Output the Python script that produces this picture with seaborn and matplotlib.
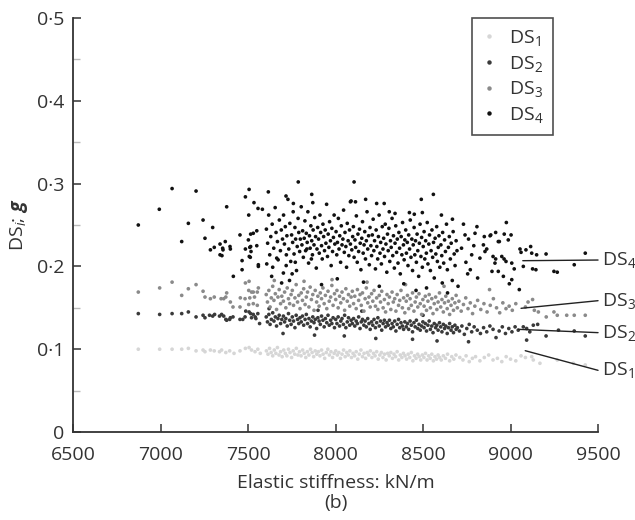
import pandas as pd
import matplotlib
matplotlib.use("Agg")
import matplotlib.pyplot as plt
import seaborn as sns
from matplotlib.ticker import FixedLocator

# Values (x: elastic stiffness kN/m, y: DS_i g)
ds1 = [(6873,0.100),(6995,0.100),(7066,0.100),(7121,0.100),(7159,0.101),(7203,0.098),(7243,0.099),(7254,0.097),
       (7285,0.099),(7307,0.098),(7337,0.097),(7349,0.099),(7373,0.096),(7395,0.098),(7420,0.095),(7454,0.098),
       (7485,0.101),(7506,0.102),(7520,0.099),(7540,0.097),(7556,0.100),(7570,0.095),
       (7605,0.098),(7614,0.094),(7623,0.101),(7632,0.096),(7641,0.092),(7650,0.099),(7659,0.095),(7668,0.102),
       (7677,0.093),(7686,0.097),(7695,0.091),(7704,0.099),(7713,0.095),(7722,0.092),(7731,0.100),(7740,0.096),
       (7749,0.090),(7758,0.098),(7767,0.094),(7776,0.101),(7785,0.093),(7794,0.097),(7803,0.092),(7812,0.099),
       (7821,0.095),(7830,0.090),(7839,0.097),(7848,0.093),(7857,0.100),(7866,0.096),(7875,0.091),(7884,0.098),
       (7893,0.094),(7902,0.097),(7911,0.092),(7920,0.099),(7929,0.094),(7938,0.089),(7947,0.096),(7956,0.100),
       (7965,0.093),(7974,0.097),(7983,0.090),(7992,0.095),(8001,0.098),(8010,0.093),(8019,0.096),(8028,0.089),
       (8037,0.094),(8046,0.099),(8055,0.091),(8064,0.096),(8073,0.093),(8082,0.098),(8091,0.090),(8100,0.095),
       (8109,0.092),(8118,0.097),(8127,0.088),(8136,0.094),(8145,0.099),(8154,0.091),(8163,0.095),(8172,0.089),
       (8181,0.096),(8190,0.093),(8199,0.098),(8208,0.090),(8217,0.095),(8226,0.092),(8235,0.097),(8244,0.088),
       (8253,0.093),(8262,0.096),(8271,0.090),(8280,0.094),(8289,0.087),(8298,0.095),(8307,0.092),(8316,0.096),
       (8325,0.089),(8334,0.094),(8343,0.091),(8352,0.097),(8361,0.087),(8370,0.093),(8379,0.090),(8388,0.095),
       (8397,0.092),(8406,0.088),(8415,0.094),(8424,0.090),(8433,0.096),(8442,0.086),(8451,0.092),(8460,0.089),
       (8469,0.094),(8478,0.091),(8487,0.087),(8496,0.093),(8505,0.090),(8514,0.095),(8523,0.087),(8532,0.092),
       (8541,0.089),(8550,0.094),(8559,0.086),(8568,0.091),(8577,0.088),(8586,0.093),(8595,0.090),(8604,0.087),
       (8616,0.092),(8628,0.089),(8640,0.094),(8652,0.086),(8664,0.091),(8676,0.088),(8688,0.093),(8710,0.090),
       (8728,0.087),(8746,0.092),(8764,0.085),(8782,0.089),(8800,0.091),(8825,0.086),(8850,0.090),(8875,0.093),
       (8900,0.087),(8925,0.089),(8950,0.085),(8975,0.091),(9000,0.088),(9030,0.086),(9060,0.092),(9085,0.090),
       (9121,0.091),(9130,0.087),(9168,0.083),(9267,0.087),(9359,0.083),(9427,0.081)]

ds2 = [(6873,0.143),(6995,0.142),(7066,0.143),(7121,0.143),(7159,0.145),(7203,0.139),(7243,0.141),(7254,0.138),
       (7280,0.141),(7298,0.140),(7309,0.142),(7337,0.140),(7349,0.142),(7361,0.140),(7373,0.136),(7378,0.135),
       (7395,0.136),(7399,0.138),(7414,0.139),(7454,0.136),(7470,0.136),(7487,0.146),(7506,0.145),(7515,0.143),
       (7530,0.142),(7541,0.139),(7556,0.143),(7483,0.139),(7520,0.138),(7545,0.137),(7566,0.131),
       (7604,0.139),(7611,0.133),(7619,0.142),(7626,0.130),(7633,0.136),(7641,0.144),(7648,0.134),(7656,0.139),
       (7663,0.128),(7671,0.137),(7678,0.141),(7686,0.131),(7693,0.136),(7702,0.140),(7709,0.133),(7716,0.137),
       (7724,0.128),(7731,0.143),(7738,0.135),(7746,0.130),(7753,0.139),(7760,0.134),(7768,0.126),(7775,0.141),
       (7783,0.136),(7790,0.131),(7797,0.138),(7804,0.133),(7811,0.140),(7818,0.129),(7826,0.136),(7833,0.142),
       (7840,0.131),(7848,0.137),(7855,0.127),(7862,0.134),(7870,0.139),(7877,0.132),(7884,0.136),(7892,0.125),
       (7899,0.138),(7906,0.134),(7913,0.130),(7920,0.140),(7928,0.135),(7935,0.127),(7942,0.137),(7950,0.132),
       (7957,0.141),(7964,0.129),(7972,0.135),(7979,0.131),(7986,0.138),(7994,0.126),(8001,0.136),(8008,0.131),
       (8015,0.139),(8023,0.128),(8030,0.134),(8037,0.137),(8045,0.130),(8052,0.141),(8059,0.126),(8067,0.133),
       (8074,0.138),(8081,0.129),(8089,0.135),(8096,0.131),(8103,0.137),(8110,0.128),(8118,0.134),(8125,0.131),
       (8132,0.139),(8140,0.125),(8147,0.133),(8154,0.136),(8162,0.129),(8169,0.134),(8176,0.127),(8184,0.137),
       (8191,0.131),(8198,0.124),(8206,0.133),(8213,0.129),(8220,0.136),(8228,0.126),(8235,0.132),(8242,0.138),
       (8250,0.128),(8257,0.134),(8264,0.123),(8272,0.131),(8279,0.135),(8286,0.127),(8294,0.132),(8301,0.129),
       (8308,0.135),(8316,0.125),(8323,0.131),(8330,0.127),(8338,0.134),(8345,0.122),(8352,0.130),(8360,0.136),
       (8367,0.126),(8374,0.132),(8382,0.128),(8389,0.124),(8396,0.133),(8404,0.127),(8411,0.131),(8418,0.124),
       (8426,0.134),(8433,0.129),(8440,0.121),(8448,0.132),(8455,0.127),(8462,0.135),(8470,0.125),(8477,0.130),
       (8484,0.123),(8492,0.128),(8499,0.133),(8506,0.126),(8513,0.131),(8520,0.122),(8528,0.129),(8535,0.134),
       (8542,0.124),(8550,0.128),(8557,0.120),(8564,0.131),(8572,0.126),(8579,0.129),(8586,0.123),(8594,0.132),
       (8601,0.127),(8608,0.121),(8616,0.130),(8623,0.125),(8630,0.128),(8638,0.119),(8645,0.126),(8652,0.131),
       (8660,0.123),(8667,0.127),(8674,0.120),(8682,0.129),(8689,0.124),(8696,0.126),(8708,0.122),(8722,0.128),
       (8736,0.118),(8750,0.125),(8764,0.130),(8778,0.121),(8792,0.127),(8810,0.123),(8828,0.119),(8846,0.126),
       (8864,0.121),(8882,0.128),(8900,0.124),(8917,0.114),(8935,0.122),(8953,0.127),(8971,0.119),(8990,0.125),
       (9008,0.121),(9026,0.127),(9044,0.123),(9073,0.127),(9092,0.125),(9130,0.129),(9155,0.130),(9203,0.116),
       (9274,0.123),(9364,0.122),(9427,0.116),(9092,0.111),(9110,0.121),
       (7700,0.119),(7880,0.117),(8050,0.116),(8230,0.113),(8440,0.112),(8580,0.110),(8760,0.109),
       (7620,0.149),(7900,0.147),(8150,0.146),(8500,0.141)]

ds3 = [(6873,0.169),(6995,0.174),(7066,0.181),(7121,0.165),(7159,0.173),(7203,0.178),(7243,0.170),(7254,0.163),
       (7285,0.161),(7307,0.163),(7346,0.161),(7361,0.161),(7373,0.163),(7378,0.168),(7399,0.157),(7414,0.151),
       (7456,0.162),(7485,0.180),(7506,0.182),(7454,0.151),(7504,0.171),(7520,0.169),(7530,0.169),(7553,0.169),
       (7559,0.174),(7483,0.161),(7510,0.162),(7537,0.163),(7504,0.154),(7530,0.155),(7553,0.153),
       (7604,0.166),(7611,0.157),(7619,0.171),(7626,0.151),(7633,0.162),(7641,0.176),(7648,0.159),(7656,0.167),
       (7663,0.148),(7671,0.163),(7678,0.172),(7686,0.155),(7693,0.164),(7702,0.158),(7709,0.169),(7716,0.150),
       (7724,0.174),(7731,0.161),(7738,0.155),(7746,0.166),(7753,0.171),(7760,0.153),(7768,0.162),(7775,0.178),
       (7783,0.157),(7790,0.165),(7797,0.149),(7804,0.168),(7811,0.159),(7818,0.173),(7826,0.154),(7833,0.163),
       (7840,0.169),(7848,0.151),(7855,0.175),(7862,0.160),(7870,0.166),(7877,0.147),(7884,0.171),(7892,0.157),
       (7899,0.164),(7906,0.152),(7913,0.168),(7920,0.161),(7928,0.174),(7935,0.155),(7942,0.165),(7950,0.149),
       (7957,0.170),(7964,0.158),(7972,0.163),(7979,0.177),(7986,0.153),(7994,0.167),(8001,0.160),(8008,0.171),
       (8015,0.150),(8023,0.164),(8030,0.156),(8037,0.169),(8045,0.161),(8052,0.147),(8059,0.173),(8067,0.158),
       (8074,0.166),(8081,0.152),(8089,0.163),(8096,0.170),(8103,0.155),(8110,0.164),(8118,0.149),(8125,0.172),
       (8132,0.159),(8140,0.166),(8147,0.153),(8154,0.168),(8162,0.146),(8169,0.161),(8176,0.174),(8184,0.156),
       (8191,0.163),(8198,0.151),(8206,0.167),(8213,0.158),(8220,0.171),(8228,0.152),(8235,0.162),(8242,0.148),
       (8250,0.165),(8257,0.157),(8264,0.170),(8272,0.150),(8279,0.160),(8286,0.145),(8294,0.166),(8301,0.155),
       (8308,0.163),(8316,0.148),(8323,0.169),(8330,0.157),(8338,0.161),(8345,0.146),(8352,0.166),(8360,0.153),
       (8367,0.159),(8374,0.171),(8382,0.150),(8389,0.162),(8396,0.144),(8404,0.158),(8411,0.165),(8418,0.149),
       (8426,0.161),(8433,0.153),(8440,0.168),(8448,0.146),(8455,0.157),(8462,0.163),(8470,0.151),(8477,0.167),
       (8484,0.155),(8492,0.142),(8499,0.160),(8506,0.152),(8513,0.164),(8520,0.147),(8528,0.158),(8535,0.166),
       (8542,0.150),(8550,0.161),(8557,0.143),(8564,0.155),(8572,0.163),(8579,0.148),(8586,0.157),(8594,0.168),
       (8601,0.151),(8608,0.160),(8616,0.145),(8623,0.156),(8630,0.164),(8638,0.149),(8645,0.158),(8652,0.142),
       (8660,0.153),(8667,0.161),(8674,0.147),(8682,0.156),(8689,0.165),(8696,0.150),(8705,0.158),(8718,0.146),
       (8731,0.154),(8744,0.162),(8757,0.149),(8770,0.156),(8783,0.143),(8796,0.152),(8812,0.159),(8830,0.148),
       (8848,0.155),(8866,0.145),(8884,0.153),(8902,0.161),(8920,0.150),(8938,0.144),(8956,0.156),(8974,0.149),
       (8992,0.152),(9010,0.147),(9030,0.155),(9126,0.160),(9136,0.147),(9159,0.145),(9204,0.139),(9248,0.145),
       (9267,0.141),(9321,0.141),(9364,0.141),(9427,0.141),(9085,0.151),(9100,0.157),
       (7650,0.183),(7820,0.182),(7980,0.184),(8180,0.181),(8400,0.178),(8620,0.176),(8880,0.172)]

ds4 = [(6873,0.250),(6993,0.269),(7066,0.294),(7121,0.230),(7159,0.252),(7203,0.291),(7243,0.256),(7254,0.234),
       (7285,0.220),(7298,0.247),(7307,0.223),(7340,0.227),(7351,0.213),(7357,0.220),(7370,0.230),(7378,0.272),
       (7399,0.221),(7454,0.238),(7466,0.207),(7485,0.284),(7485,0.221),(7502,0.232),(7504,0.262),(7506,0.293),
       (7510,0.223),(7513,0.211),(7515,0.239),(7517,0.218),(7530,0.240),(7534,0.277),(7550,0.243),(7550,0.225),
       (7557,0.270),(7559,0.200),(7340,0.214),(7355,0.222),(7397,0.224),(7416,0.188),(7466,0.196),(7507,0.212),
       (7515,0.224),(7559,0.202),(7607,0.203),(7635,0.188),(7664,0.210),(7692,0.180),(7702,0.192),(7718,0.201),
       (7752,0.191),(7770,0.205),(7836,0.221),(7862,0.209),
       (7605,0.245),(7612,0.228),(7618,0.262),(7624,0.214),(7630,0.236),(7638,0.251),(7641,0.199),(7647,0.222),
       (7655,0.271),(7660,0.241),(7668,0.230),(7672,0.208),(7679,0.256),(7685,0.219),(7690,0.244),(7697,0.233),
       (7703,0.262),(7708,0.227),(7713,0.248),(7719,0.214),(7722,0.237),(7728,0.281),(7733,0.221),(7739,0.252),
       (7744,0.206),(7749,0.238),(7755,0.229),(7758,0.266),(7763,0.215),(7768,0.247),(7772,0.233),(7777,0.195),
       (7781,0.224),(7786,0.258),(7790,0.241),(7795,0.218),(7799,0.233),(7804,0.272),(7808,0.226),(7812,0.243),
       (7816,0.211),(7821,0.234),(7825,0.255),(7829,0.219),(7833,0.240),(7838,0.229),(7842,0.266),(7846,0.204),
       (7851,0.237),(7855,0.222),(7859,0.249),(7864,0.231),(7868,0.214),(7872,0.244),(7877,0.226),(7881,0.259),
       (7886,0.236),(7890,0.198),(7894,0.221),(7898,0.247),(7903,0.233),(7907,0.216),(7911,0.262),(7915,0.241),
       (7920,0.225),(7924,0.209),(7928,0.251),(7932,0.236),(7937,0.219),(7941,0.244),(7945,0.228),(7949,0.275),
       (7954,0.212),(7958,0.239),(7962,0.223),(7966,0.254),(7971,0.231),(7975,0.201),(7979,0.246),(7983,0.218),
       (7988,0.235),(7992,0.262),(7996,0.227),(8003,0.242),(8007,0.214),(8011,0.229),(8016,0.258),(8020,0.221),
       (8024,0.237),(8029,0.205),(8033,0.249),(8037,0.226),(8042,0.233),(8046,0.268),(8050,0.217),(8054,0.241),
       (8059,0.224),(8063,0.199),(8067,0.252),(8072,0.231),(8076,0.213),(8080,0.244),(8085,0.227),(8089,0.279),
       (8093,0.220),(8098,0.236),(8102,0.248),(8106,0.211),(8111,0.232),(8115,0.223),(8119,0.261),(8124,0.205),
       (8128,0.239),(8132,0.218),(8137,0.245),(8141,0.228),(8145,0.196),(8150,0.234),(8154,0.254),(8158,0.216),
       (8163,0.226),(8167,0.242),(8171,0.209),(8176,0.231),(8180,0.266),(8184,0.221),(8189,0.237),(8193,0.202),
       (8197,0.247),(8202,0.225),(8206,0.213),(8210,0.238),(8215,0.257),(8219,0.219),(8223,0.231),(8228,0.197),
       (8232,0.244),(8236,0.224),(8241,0.209),(8245,0.236),(8249,0.262),(8254,0.216),(8258,0.229),(8262,0.203),
       (8267,0.248),(8271,0.221),(8275,0.234),(8280,0.212),(8284,0.251),(8288,0.227),(8293,0.193),(8297,0.239),
       (8301,0.219),(8305,0.246),(8310,0.206),(8314,0.231),(8318,0.223),(8323,0.258),(8327,0.213),(8331,0.237),
       (8336,0.198),(8340,0.228),(8344,0.249),(8349,0.217),(8353,0.233),(8357,0.204),(8362,0.241),(8366,0.222),
       (8370,0.191),(8375,0.236),(8379,0.214),(8383,0.253),(8388,0.226),(8392,0.208),(8396,0.232),(8401,0.244),
       (8405,0.216),(8410,0.229),(8414,0.201),(8418,0.238),(8423,0.221),(8427,0.256),(8431,0.211),(8436,0.233),
       (8440,0.195),(8444,0.226),(8449,0.247),(8453,0.214),(8457,0.231),(8462,0.205),(8466,0.239),(8470,0.219),
       (8475,0.188),(8479,0.228),(8483,0.251),(8488,0.212),(8492,0.235),(8496,0.199),(8501,0.224),(8506,0.242),
       (8510,0.209),(8515,0.231),(8519,0.216),(8524,0.253),(8528,0.203),(8533,0.227),(8537,0.238),(8542,0.195),
       (8546,0.219),(8551,0.244),(8555,0.211),(8560,0.229),(8564,0.186),(8569,0.234),(8573,0.215),(8578,0.248),
       (8582,0.206),(8587,0.223),(8591,0.237),(8596,0.199),(8602,0.226),(8607,0.213),(8612,0.241),(8618,0.204),
       (8623,0.232),(8628,0.218),(8634,0.251),(8639,0.196),(8645,0.223),(8650,0.236),(8656,0.209),(8661,0.228),
       (8667,0.183),(8672,0.242),(8678,0.215),(8683,0.201),(8689,0.231),(8694,0.219),
       (7616,0.290),(7717,0.285),(7787,0.302),(7864,0.287),(7759,0.276),(7870,0.277),(7582,0.269),(8085,0.278),
       (8114,0.278),(8106,0.302),(8172,0.281),(8235,0.276),(8278,0.276),(8307,0.266),(8340,0.264),(8422,0.265),
       (8450,0.263),(8496,0.265),(8490,0.281),(8559,0.287),(8605,0.262),(8668,0.257),(8731,0.251),
       (7737,0.183),(7920,0.178),(8010,0.185),(8160,0.181),(8250,0.176),(8390,0.179),(8520,0.174),(8610,0.180),
       (8700,0.176),(8640,0.168),(8460,0.171),
       (8720,0.222),(8745,0.205),(8760,0.233),(8778,0.214),(8797,0.240),(8850,0.236),(8887,0.238),(8915,0.241),
       (8930,0.230),(8976,0.253),(8883,0.237),(8845,0.226),(8864,0.221),(8854,0.218),(8936,0.230),(8964,0.239),
       (9003,0.238),(8987,0.232),(8900,0.212),(8915,0.209),(8911,0.204),(8950,0.212),(8963,0.209),(8974,0.206),
       (9007,0.204),(8894,0.194),(8930,0.194),(8959,0.188),(8993,0.179),(9007,0.184),(9050,0.172),(9021,0.197),
       (9054,0.221),(9060,0.217),(9088,0.220),(9115,0.224),(9121,0.216),(9149,0.214),(9073,0.200),(9126,0.197),
       (9145,0.196),(9203,0.215),(9248,0.194),(9267,0.193),(9364,0.202),(9427,0.216),
       (8770,0.196),(8812,0.186),(8825,0.210),(8790,0.225),(8740,0.238),(8808,0.248),(8755,0.191)]

labels = ["DS$_1$", "DS$_2$", "DS$_3$", "DS$_4$"]
colors = ["#d6d6d6", "#3a3a3a", "#8a8a8a", "#111111"]
x_ticks = [6500, 7000, 7500, 8000, 8500, 9000, 9500]
y_ticks = [0, 0.1, 0.2, 0.3, 0.4, 0.5]
y_ticklabels = ["0", "0·1", "0·2", "0·3", "0·4", "0·5"]

# leader lines: (x start, y start, y end) -> label at right edge
leaders = {"DS$_4$": (9070, 0.2069, 0.2077),
           "DS$_3$": (9060, 0.1494, 0.1586),
           "DS$_2$": (9044, 0.1240, 0.1200),
           "DS$_1$": (9084, 0.0982, 0.0745)}

frames = []
for lab, pts in zip(labels, [ds1, ds2, ds3, ds4]):
    d = pd.DataFrame(pts, columns=["stiffness", "g"])
    d["series"] = lab
    frames.append(d)
df = pd.concat(frames, ignore_index=True)

sns.set_style("ticks")
plt.rcParams["font.family"] = ["Open Sans", "DejaVu Sans"]
plt.rcParams["mathtext.fontset"] = "custom"
plt.rcParams["mathtext.rm"] = "Open Sans"
plt.rcParams["mathtext.it"] = "Open Sans:italic"
plt.rcParams["mathtext.bf"] = "Open Sans:bold:italic"
text_col = "#333333"

fig = plt.figure(figsize=(6.35, 5.2), dpi=100)
ax = fig.add_axes([0.115, 0.1692, 0.8268, 0.7962])

sns.scatterplot(data=df, x="stiffness", y="g", hue="series", palette=dict(zip(labels, colors)),
                s=7, linewidth=0, marker="o", ax=ax, legend=False)

ax.set_xlim(6500, 9500)
ax.set_ylim(0, 0.5)
ax.set_xticks(x_ticks)
ax.set_yticks(y_ticks)
ax.set_yticklabels(y_ticklabels)
ax.yaxis.set_minor_locator(FixedLocator([0.05, 0.15, 0.25, 0.35, 0.45]))
ax.tick_params(axis="both", which="major", direction="in", length=6, width=1.1,
               color=text_col, labelsize=14, labelcolor=text_col)
ax.tick_params(axis="x", which="major", pad=10)
ax.tick_params(axis="y", which="major", pad=6)
ax.tick_params(axis="y", which="minor", direction="in", length=5, width=1.0, color="#bbbbbb")
for side in ["top", "right"]:
    ax.spines[side].set_visible(False)
for side in ["left", "bottom"]:
    ax.spines[side].set_linewidth(1.3)
    ax.spines[side].set_color(text_col)

ax.set_xlabel("Elastic stiffness: kN/m\n(b)", fontsize=14, color=text_col, labelpad=7, linespacing=1.2)
ax.set_ylabel("DS$_{\\mathit{i}}$; $\\mathbf{g}$", fontsize=14, color=text_col, labelpad=5)

for lab, (x0, y0, y1) in leaders.items():
    ax.plot([x0, 9500], [y0, y1], color="#222222", lw=1.0, clip_on=False)
    ax.text(9520, y1, lab, fontsize=14, color=text_col, va="center", ha="left", clip_on=False)

handles = [plt.Line2D([], [], marker="o", linestyle="none", markersize=3.2, color=c, markeredgewidth=0)
           for c in colors]
leg = ax.legend(handles, labels, loc="upper right", bbox_to_anchor=(0.914, 1.0), fontsize=14,
                frameon=True, fancybox=False, edgecolor="#222222", handlelength=0.8, handletextpad=0.6,
                labelspacing=0.3, borderpad=0.5, borderaxespad=0)
leg.get_frame().set_linewidth(1.2)
for t in leg.get_texts():
    t.set_color(text_col)

plt.savefig("out.png", dpi=100)
